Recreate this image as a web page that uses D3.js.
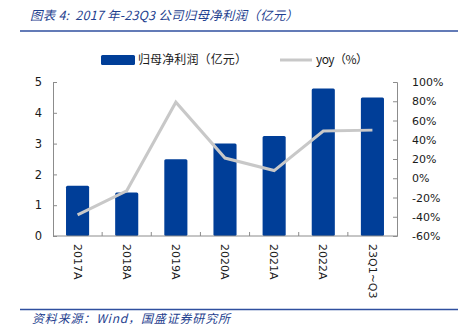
<!DOCTYPE html>
<html>
<head>
<meta charset="utf-8">
<script src="https://cdn.jsdelivr.net/npm/d3@7"></script>
<style>
  html, body { margin: 0; padding: 0; background: #fff; }
  svg { display: block; }
  text { white-space: pre; }
</style>
</head>
<body>
<svg id="chart" width="458" height="332"></svg>
<script>
// Net profit attributable to parent (100M CNY) and YoY growth (%)
const categories = ["2017A", "2018A", "2019A", "2020A", "2021A", "2022A", "23Q1~Q3"];
const profit = [1.63, 1.41, 2.49, 3.0, 3.25, 4.79, 4.50];
const yoy = [-38, -13, 79, 21, 8, 49, 50];
const leftTicks = [0, 1, 2, 3, 4, 5];
const rightTicks = [-60, -40, -20, 0, 20, 40, 60, 80, 100];

const blue = "#003e98";
const grey = "#c8c8c8";
const axisColor = "#8c8c8c";
const textColor = "#1a1a1a";
const titleBlue = "#1f3f8f";
const latinFont = "'DejaVu Sans', sans-serif";
const cjkFont = "'Noto Sans CJK SC', sans-serif";

const svg = d3.select("#chart");
const plot = { left: 53, right: 397, top: 82, bottom: 236 };

const x = d3.scaleBand().domain(categories).range([plot.left, plot.right]).paddingInner(0.53).paddingOuter(0.265);
const band = d3.scaleBand().domain(categories).range([plot.left, plot.right]);
const yL = d3.scaleLinear().domain([0, 5]).range([plot.bottom, plot.top]);
const yR = d3.scaleLinear().domain([-60, 100]).range([plot.bottom, plot.top]);

// Title and rules
svg.append("text")
  .attr("x", 30).attr("y", 20)
  .attr("font-family", cjkFont).attr("font-size", 12.5).attr("font-style", "italic")
  .attr("fill", titleBlue)
  .attr("textLength", 268).attr("lengthAdjust", "spacing")
  .text("图表 4:  2017 年-23Q3 公司归母净利润（亿元）");
svg.append("line").attr("x1", 20).attr("x2", 458).attr("y1", 31).attr("y2", 31)
  .attr("stroke", "#2f4f9f").attr("stroke-width", 1.5);
svg.append("line").attr("x1", 20).attr("x2", 458).attr("y1", 309.5).attr("y2", 309.5)
  .attr("stroke", "#2f4f9f").attr("stroke-width", 1.5);
svg.append("text")
  .attr("x", 32).attr("y", 323)
  .attr("font-family", cjkFont).attr("font-size", 12).attr("font-style", "italic")
  .attr("fill", titleBlue)
  .attr("textLength", 198).attr("lengthAdjust", "spacing")
  .text("资料来源：Wind，国盛证券研究所");

// Legend
const legend = svg.append("g");
legend.append("rect").attr("x", 101).attr("y", 55).attr("width", 34).attr("height", 10).attr("rx", 1.5).attr("fill", blue);
legend.append("text").attr("x", 138).attr("y", 60).attr("dy", "0.35em")
  .attr("font-family", cjkFont).attr("font-size", 12).attr("fill", textColor)
  .attr("textLength", 109).attr("lengthAdjust", "spacing")
  .text("归母净利润（亿元）");
legend.append("line").attr("x1", 280).attr("x2", 312).attr("y1", 60).attr("y2", 60)
  .attr("stroke", grey).attr("stroke-width", 3);
legend.append("text").attr("x", 316).attr("y", 60).attr("dy", "0.35em")
  .attr("font-family", cjkFont).attr("font-size", 12).attr("fill", textColor)
  .attr("textLength", 52).attr("lengthAdjust", "spacing")
  .text("yoy（%）");

// Bars
svg.append("g").selectAll("rect").data(categories).join("rect")
  .attr("x", d => x(d))
  .attr("width", x.bandwidth())
  .attr("y", (d, i) => yL(profit[i]))
  .attr("height", (d, i) => yL(0) - yL(profit[i]))
  .attr("rx", 1.5)
  .attr("fill", blue);

// Left axis
const axL = svg.append("g").attr("transform", `translate(${plot.left},0)`)
  .call(d3.axisLeft(yL).tickValues(leftTicks).tickFormat(d3.format("d")).tickSize(-4).tickPadding(11));
axL.select(".domain").attr("stroke", axisColor);
axL.selectAll(".tick line").attr("stroke", axisColor);
axL.selectAll(".tick text").attr("font-family", latinFont).attr("font-size", 11.5).attr("fill", textColor);

// Right axis
const axR = svg.append("g").attr("transform", `translate(${plot.right},0)`)
  .call(d3.axisRight(yR).tickValues(rightTicks).tickFormat(d => d + "%").tickSize(-4).tickPadding(15));
axR.select(".domain").attr("stroke", axisColor);
axR.selectAll(".tick line").attr("stroke", axisColor);
axR.selectAll(".tick text").attr("font-family", latinFont).attr("font-size", 11).attr("fill", textColor);

// Bottom axis with ticks at category boundaries
const axB = svg.append("g").attr("transform", `translate(0,${plot.bottom})`);
axB.append("line").attr("x1", plot.left).attr("x2", plot.right).attr("y1", 0).attr("y2", 0)
  .attr("stroke", axisColor);
axB.selectAll("line.tick").data(categories.slice(1)).join("line")
  .attr("class", "tick")
  .attr("x1", d => band(d)).attr("x2", d => band(d))
  .attr("y1", 0).attr("y2", -4)
  .attr("stroke", axisColor);
axB.selectAll("text").data(categories).join("text")
  .attr("transform", d => `translate(${band(d) + band.bandwidth() / 2},8) rotate(90)`)
  .attr("dy", "0.35em")
  .attr("font-family", latinFont).attr("font-size", 11).attr("fill", textColor)
  .text(d => d);

// YoY line
const line = d3.line()
  .x(d => band(d) + band.bandwidth() / 2)
  .y((d, i) => yR(yoy[i]));
svg.append("path").datum(categories)
  .attr("d", line)
  .attr("fill", "none")
  .attr("stroke", grey)
  .attr("stroke-width", 3)
  .attr("stroke-linejoin", "miter");
</script>
</body>
</html>
